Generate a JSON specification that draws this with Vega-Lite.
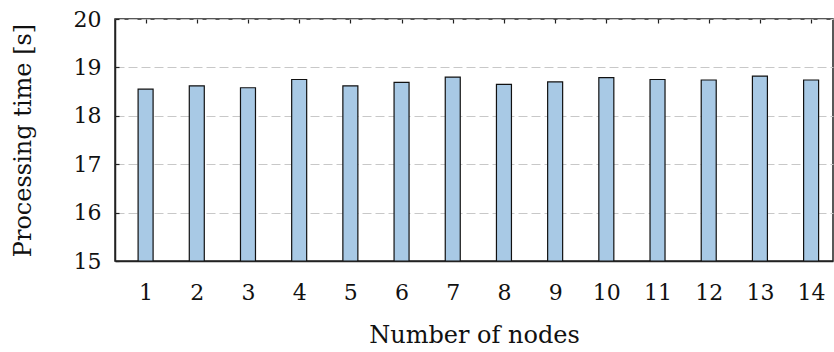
{
  "$schema": "https://vega.github.io/schema/vega-lite/v6.json",
  "autosize": "none",
  "width": 718,
  "height": 242,
  "padding": {"left": 115, "top": 19, "right": 1, "bottom": 91},
  "background": "white",
  "config": {
    "view": {"stroke": "#222", "strokeWidth": 1.5},
    "font": "DejaVu Serif",
    "axis": {
      "labelFont": "DejaVu Serif",
      "titleFont": "DejaVu Serif",
      "labelColor": "#111",
      "titleColor": "#111",
      "labelFontSize": 22,
      "titleFontSize": 24,
      "titleFontWeight": "normal",
      "domainColor": "#222",
      "domainWidth": 1.5,
      "tickColor": "#222",
      "tickWidth": 1.2
    }
  },
  "data": {
    "values": [
      {"nodes": 1, "time": 18.55},
      {"nodes": 2, "time": 18.62},
      {"nodes": 3, "time": 18.58},
      {"nodes": 4, "time": 18.75},
      {"nodes": 5, "time": 18.62},
      {"nodes": 6, "time": 18.69},
      {"nodes": 7, "time": 18.80},
      {"nodes": 8, "time": 18.65},
      {"nodes": 9, "time": 18.70},
      {"nodes": 10, "time": 18.79},
      {"nodes": 11, "time": 18.75},
      {"nodes": 12, "time": 18.74},
      {"nodes": 13, "time": 18.82},
      {"nodes": 14, "time": 18.74}
    ]
  },
  "resolve": {"axis": {"x": "independent"}},
  "layer": [
    {
      "mark": {"type": "bar", "size": 15, "fill": "#a8c9e5", "stroke": "#111", "strokeWidth": 1.2, "clip": true},
      "encoding": {
        "x": {
          "field": "nodes", "type": "quantitative",
          "scale": {"domain": [0.5, 14.33], "nice": false, "zero": false},
          "axis": {
            "orient": "bottom", "values": [1,2,3,4,5,6,7,8,9,10,11,12,13,14],
            "grid": false, "ticks": false, "labelPadding": 21,
            "title": "Number of nodes", "titlePadding": 20,
            "labelFlush": false, "labelOverlap": false
          }
        },
        "y": {
          "field": "time", "type": "quantitative",
          "scale": {"domain": [15, 20], "nice": false, "zero": false},
          "axis": {
            "values": [15,16,17,18,19,20],
            "grid": true, "gridColor": "#c8c8c8", "gridDash": [9, 4], "gridWidth": 1,
            "tickSize": -4, "labelPadding": 18,
            "title": "Processing time [s]", "titlePadding": 38,
            "labelFlush": false, "labelOverlap": false
          }
        },
        "y2": {"datum": 15}
      }
    },
    {
      "mark": {"type": "tick", "opacity": 0},
      "encoding": {
        "x": {
          "field": "nodes", "type": "quantitative",
          "scale": {"domain": [0.5, 14.33], "nice": false, "zero": false},
          "axis": {
            "orient": "top", "values": [1,2,3,4,5,6,7,8,9,10,11,12,13,14],
            "grid": false, "labels": false, "tickSize": -4, "title": null, "domain": false
          }
        },
        "y": {"field": "time", "type": "quantitative"}
      }
    }
  ]
}
